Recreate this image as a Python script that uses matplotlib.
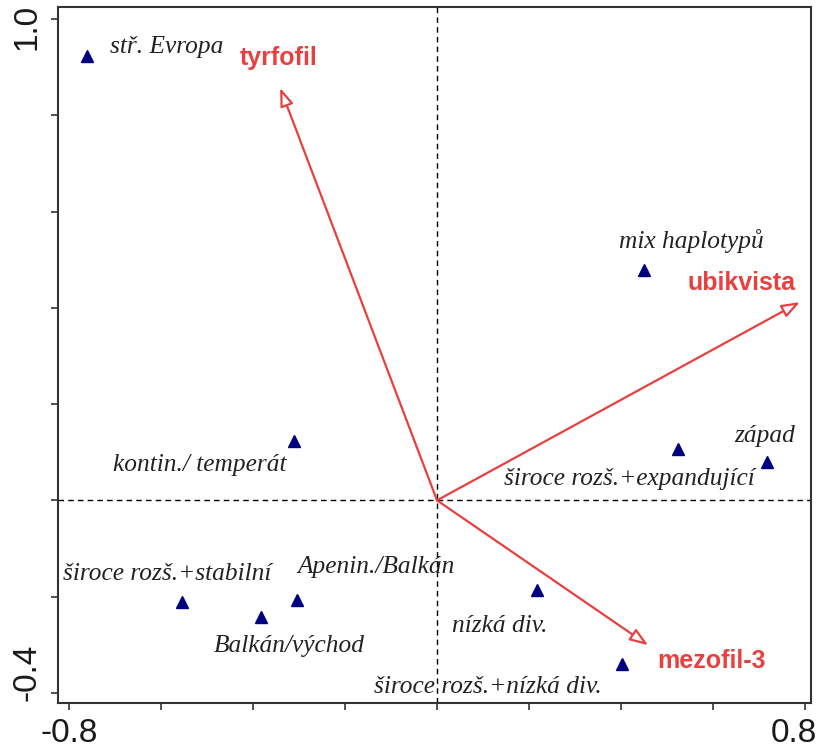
import matplotlib
matplotlib.use("Agg")
import matplotlib.pyplot as plt
import matplotlib.transforms as mtransforms

# ---- data ----
site_names = ["stř. Evropa", "mix haplotypů", "západ", "široce rozš.+expandující",
              "kontin./ temperát", "široce rozš.+stabilní", "Apenin./Balkán",
              "Balkán/východ", "nízká div.", "široce rozš.+nízká div."]
site_x = [-0.761, 0.450, 0.717, 0.524, -0.311, -0.554, -0.304, -0.383, 0.217, 0.402]
site_y = [0.923, 0.478, 0.079, 0.106, 0.123, -0.212, -0.206, -0.243, -0.187, -0.341]

env_names = ["tyrfofil", "ubikvista", "mezofil-3"]
env_x = [-0.341, 0.789, 0.459]
env_y = [0.857, 0.412, -0.301]

x_ticks = [-0.8, -0.6, -0.4, -0.2, 0.0, 0.2, 0.4, 0.6, 0.8]
y_ticks = [1.0, 0.8, 0.6, 0.4, 0.2, 0.0, -0.2, -0.4]
x_ticklabels = ["-0.8", "", "", "", "", "", "", "", "0.8"]
y_ticklabels = ["1.0", "", "", "", "", "", "", "-0.4"]

# ---- layout / style ----
site_offsets = [(23, 9, "left"), (47, 29, "center"), (-2, 26, "center"), (-49, -30, "center"),
                (-94, -24, "center"), (-15, 28, "center"), (79, 33, "center"),
                (28, -29, "center"), (-37, -36, "center"), (-134, -23, "center")]
env_offsets = [(-2, 30), (-58, 19), (63, -16)]

RED = "#e8403f"
NAVY = "#000080"
FRAME = "#333333"

fig = plt.figure(figsize=(8.2, 7.53), dpi=100)
ax = fig.add_axes([58/820, 1 - 703/753, (811 - 58)/820, (703 - 7)/753])
ax.set_xlim(-0.824, 0.813)
ax.set_ylim(-0.421, 1.025)

ax.axhline(0, color="black", lw=1.0, dashes=(4, 3), zorder=1)
ax.axvline(0, color="black", lw=1.0, dashes=(4, 3), zorder=1)

for ex, ey in zip(env_x, env_y):
    ax.annotate("", xy=(ex, ey), xytext=(0, 0),
                arrowprops=dict(arrowstyle="-|>,head_length=0.55,head_width=0.2",
                                mutation_scale=20, edgecolor=RED, facecolor="white",
                                lw=1.6, shrinkA=0, shrinkB=0), zorder=3)

ax.plot(site_x, site_y, linestyle="none", marker="^", markersize=8.5, color=NAVY, zorder=4)

for name, sx, sy, (dx, dy, ha) in zip(site_names, site_x, site_y, site_offsets):
    ax.annotate(name, xy=(sx, sy), xytext=(dx, dy), textcoords="offset pixels",
                ha=ha, va="center", fontsize=18.3, family="Liberation Serif",
                style="italic", color="#222222", zorder=5)

for name, ex, ey, (dx, dy) in zip(env_names, env_x, env_y, env_offsets):
    ax.annotate(name, xy=(ex, ey), xytext=(dx, dy), textcoords="offset pixels",
                ha="center", va="center", fontsize=18, family="Liberation Sans",
                weight="bold", color=RED, zorder=5)

ax.set_xticks(x_ticks)
ax.set_xticklabels(x_ticklabels)
ax.set_yticks(y_ticks)
ax.set_yticklabels(y_ticklabels, rotation=90, va="center")
ax.tick_params(direction="out", length=5, width=1.2, color=FRAME, labelsize=24,
               labelcolor="#1a1a1a", pad=6)
for lab in ax.get_xticklabels() + ax.get_yticklabels():
    lab.set_family("Liberation Sans")

# nudge end labels inward like the reference
ylabs = ax.get_yticklabels()
ylabs[0].set_transform(ylabs[0].get_transform() +
                       mtransforms.ScaledTranslation(0, -8/100, fig.dpi_scale_trans))
ylabs[-1].set_transform(ylabs[-1].get_transform() +
                        mtransforms.ScaledTranslation(0, 21/100, fig.dpi_scale_trans))
xlabs = ax.get_xticklabels()
xlabs[-1].set_horizontalalignment("right")
xlabs[-1].set_transform(xlabs[-1].get_transform() +
                        mtransforms.ScaledTranslation(12/100, 0, fig.dpi_scale_trans))

for sp in ax.spines.values():
    sp.set_color(FRAME)
    sp.set_linewidth(1.5)

fig.savefig("out.png", dpi=100)
